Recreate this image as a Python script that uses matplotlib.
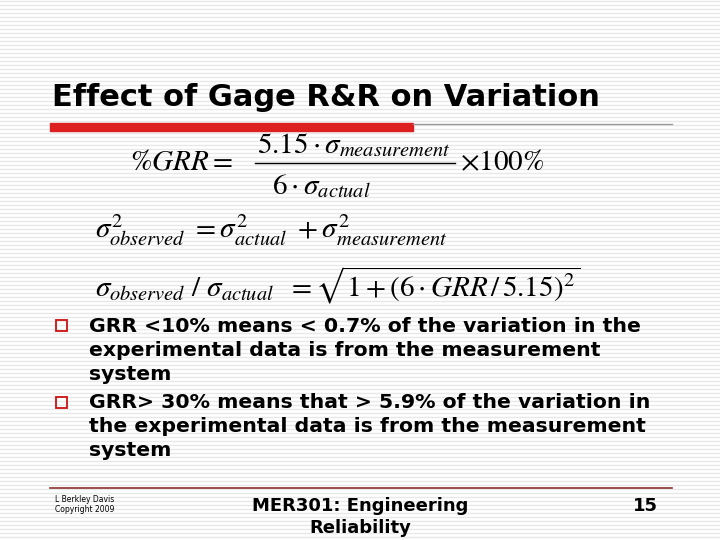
import matplotlib
matplotlib.use("Agg")
import matplotlib.pyplot as plt
from matplotlib.lines import Line2D
from matplotlib.patches import Rectangle

plt.rcParams['mathtext.fontset'] = 'stix'
plt.rcParams['font.family'] = ['DejaVu Sans']

title = "Effect of Gage R&R on Variation"
bullets = [
    ["GRR <10% means < 0.7% of the variation in the",
     "experimental data is from the measurement",
     "system"],
    ["GRR> 30% means that > 5.9% of the variation in",
     "the experimental data is from the measurement",
     "system"],
]
footer_left = ["L Berkley Davis", "Copyright 2009"]
footer_mid = ["MER301: Engineering", "Reliability"]
page = "15"

W, H = 720, 540
fig = plt.figure(figsize=(7.2, 5.4), dpi=100)
ax = fig.add_axes([0, 0, 1, 1])
ax.set_xlim(0, W); ax.set_ylim(H, 0); ax.axis('off')
fig.patch.set_facecolor('white')

for y in range(1, H, 4):
    ax.add_line(Line2D([0, W], [y, y], color='#e8e8e8', lw=1.0, zorder=0))

ax.text(52, 98, title, fontsize=22, fontweight='bold', va='center', ha='left', zorder=3)
ax.add_patch(Rectangle((50, 123), 363, 8, color='#dd1f1f', zorder=3))
ax.add_line(Line2D([413, 672], [124, 124], color='#999999', lw=1, zorder=3))
ax.add_line(Line2D([50, 672], [488, 488], color='#8b3030', lw=1.2, zorder=3))

kw = dict(fontsize=21, va='center', zorder=3)
ax.text(130, 162, r"$\%GRR=$", **kw)
ax.text(257, 145, r"$5.15\cdot\sigma_{\mathit{measurement}}$", **kw)
ax.add_line(Line2D([255, 455], [163, 163], color='black', lw=1, zorder=3))
ax.text(272, 186, r"$6\cdot\sigma_{\mathit{actual}}$", **kw)
ax.text(460, 162, r"$\times 100\%$", **kw)

ax.text(95, 230, r"$\sigma^2_{\mathit{observed}}\ =\sigma^2_{\mathit{actual}}\ +\sigma^2_{\mathit{measurement}}$", **kw)
ax.text(95, 285, r"$\sigma_{\mathit{observed}}\ /\ \sigma_{\mathit{actual}}\ \ =\sqrt{1+(6\cdot GRR\,/\,5.15)^2}$", **kw)

y = 326
for b in bullets:
    ax.add_patch(Rectangle((56, y-6), 11, 11, fill=False, ec='#cc1111', lw=1.3, zorder=3))
    for i, line in enumerate(b):
        ax.text(89, y + i*24, line, fontsize=14.7, fontweight='bold', va='center', ha='left', zorder=3)
    y += 77

ax.text(55, 500, footer_left[0], fontsize=5.5, va='center', zorder=3)
ax.text(55, 510, footer_left[1], fontsize=5.5, va='center', zorder=3)
ax.text(360, 506, footer_mid[0], fontsize=13, fontweight='bold', va='center', ha='center', zorder=3)
ax.text(360, 528, footer_mid[1], fontsize=13, fontweight='bold', va='center', ha='center', zorder=3)
ax.text(658, 506, page, fontsize=13, fontweight='bold', va='center', ha='right', zorder=3)

fig.savefig("out.png", dpi=100)
